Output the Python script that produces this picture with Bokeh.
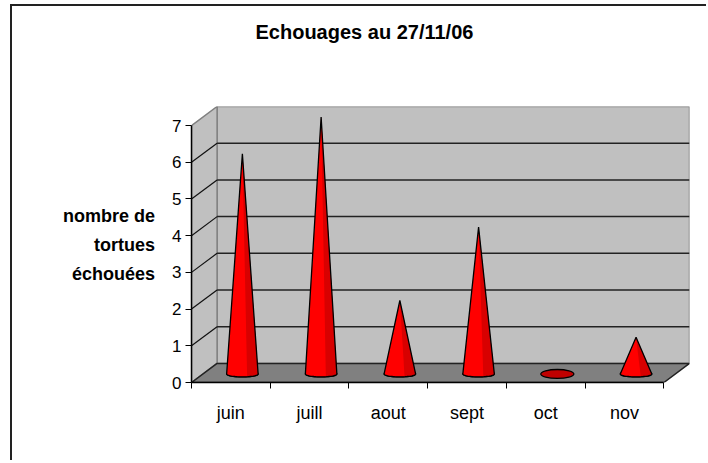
import numpy as np
from bokeh.plotting import figure
from bokeh.models import Range1d, FixedTicker, LinearAxis
from bokeh.embed import file_html
from bokeh.resources import INLINE

# ---- data ----
months = ["juin", "juill", "aout", "sept", "oct", "nov"]
counts = [6, 7, 2, 4, 0, 1]
y_ticks = [0, 1, 2, 3, 4, 5, 6, 7]
title_text = "Echouages au 27/11/06"
y_title = "nombre de\ntortues\néchouées"

# ---- layout / style constants ----
FONT = "Liberation Sans"
DX = 0.325      # depth offset in category units
DY = 0.52       # depth offset in value units
DEPTH = 0.45    # cone position inside the depth
HW = 0.2        # cone base half width
EH = 0.08       # base ellipse half height
n = len(months)
YMAX = y_ticks[-1]

W, H = 696, 456
# two empty lines under the title lift it away from the plot area
p = figure(width=W, height=H, title=title_text + "\n\n",
           x_range=Range1d(0, n + DX), y_range=Range1d(0, YMAX + DY),
           output_backend="svg", toolbar_location=None,
           x_axis_location=None, y_axis_location=None,
           min_border_left=179, min_border_right=19,
           min_border_top=100, min_border_bottom=80)
p.outline_line_color = None
p.xgrid.grid_line_color = None
p.ygrid.grid_line_color = None
p.background_fill_color = "white"
p.border_fill_color = "white"
p.styles = {"margin-left": "10px", "margin-top": "4px",
            "border-left": "2px solid #222", "border-top": "2px solid #222"}

p.title.align = "left"
p.title.offset = 64
p.title.standoff = 22
p.title.text_font = FONT
p.title.text_font_style = "bold"
p.title.text_font_size = "20px"
p.title.text_line_height = 1.2
p.title.text_color = "black"

# walls and floor
p.patch([DX, n + DX, n + DX, DX], [DY, DY, YMAX + DY, YMAX + DY],
        fill_color="#C0C0C0", line_color="#808080", line_width=1.5)
p.patch([0, DX, DX, 0], [0, DY, YMAX + DY, YMAX],
        fill_color="#C0C0C0", line_color="#808080", line_width=1.5)
p.patch([0, n, n + DX, DX], [0, 0, DY, DY],
        fill_color="#808080", line_color="#222222", line_width=1.5)

inner = y_ticks[1:-1]
p.segment(x0=[DX] * len(inner), x1=[n + DX] * len(inner),
          y0=[k + DY for k in inner], y1=[k + DY for k in inner],
          line_color="#222222", line_width=1.5)
p.segment(x0=[0] * len(inner), x1=[DX] * len(inner),
          y0=inner, y1=[k + DY for k in inner],
          line_color="#111111", line_width=1.2)

# cones
cx = [i + 0.5 + DEPTH * DX for i in range(n)]
by = DEPTH * DY
base_cols = ["#C00000" if v == 0 else "#F00000" for v in counts]
base_w = [2 * HW * (1.05 if v == 0 else 1) for v in counts]
base_h = [2 * EH * (1.5 if v == 0 else 1) for v in counts]
p.ellipse(x=cx, y=[by] * n, width=base_w, height=base_h,
          fill_color=base_cols, line_color="black", line_width=1.3)

t = np.linspace(0, np.pi, 24)
ts = np.linspace(0, np.arccos(0.3), 10)
cone_xs, cone_ys, sh_xs, sh_ys = [], [], [], []
for c, v in zip(cx, counts):
    if v <= 0:
        continue
    ax, ay = c, by + v
    cone_xs.append([ax] + list(c + HW * np.cos(t)))
    cone_ys.append([ay] + list(by - EH * np.sin(t)))
    sh_xs.append([ax] + list(c + HW * np.cos(ts)))
    sh_ys.append([ay] + list(by - EH * np.sin(ts)))

p.patches(cone_xs, cone_ys, fill_color="#FF0000", line_color=None)
p.patches(sh_xs, sh_ys, fill_color="#D80000", line_color=None)
p.patches(cone_xs, cone_ys, fill_color=None, line_color="black", line_width=1.3)

# axes
yaxis = LinearAxis(ticker=FixedTicker(ticks=y_ticks), bounds=(0, YMAX))
yaxis.axis_line_color = "black"
yaxis.axis_line_width = 1.5
yaxis.major_tick_out = 6
yaxis.major_tick_in = 0
yaxis.major_tick_line_color = "black"
yaxis.major_label_standoff = 4
yaxis.major_label_text_font = FONT
yaxis.major_label_text_font_size = "17px"
yaxis.major_label_text_color = "black"
yaxis.axis_label = y_title
yaxis.axis_label_orientation = "horizontal"
yaxis.axis_label_text_align = "center"
yaxis.axis_label_standoff = 14
yaxis.axis_label_text_font = FONT
yaxis.axis_label_text_font_style = "bold"
yaxis.axis_label_text_font_size = "18px"
yaxis.axis_label_text_color = "black"
yaxis.axis_label_text_line_height = 1.45
p.add_layout(yaxis, "left")

centers = [i + 0.5 for i in range(n)]
xaxis = LinearAxis(ticker=FixedTicker(ticks=centers, minor_ticks=list(range(n + 1))),
                   bounds=(0, n))
xaxis.major_label_overrides = {c: m for c, m in zip(centers, months)}
xaxis.axis_line_color = "black"
xaxis.axis_line_width = 1.5
xaxis.major_tick_out = 0
xaxis.major_tick_in = 0
xaxis.minor_tick_out = 6
xaxis.minor_tick_in = 0
xaxis.minor_tick_line_color = "black"
xaxis.major_label_standoff = 14
xaxis.major_label_text_font = FONT
xaxis.major_label_text_font_size = "18px"
xaxis.major_label_text_color = "black"
p.add_layout(xaxis, "below")

open("out.html", "w").write(file_html(p, INLINE))
